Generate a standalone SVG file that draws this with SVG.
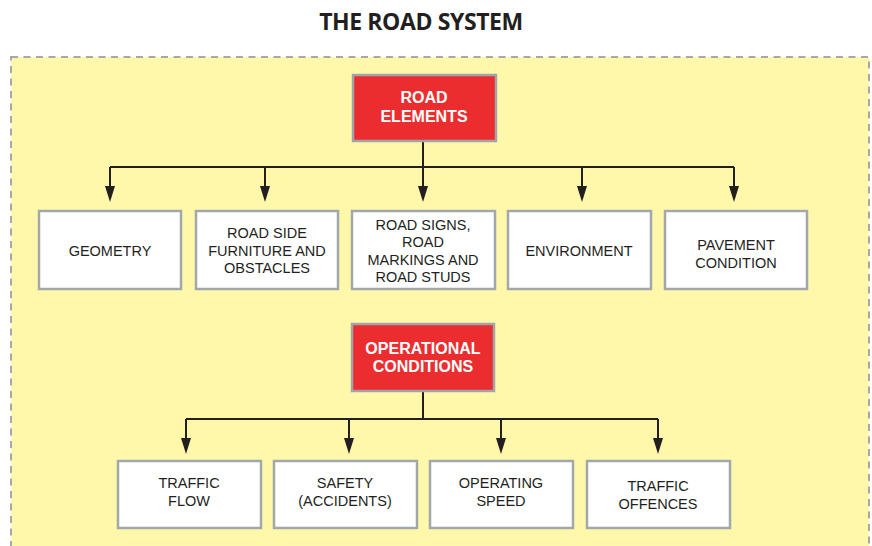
<svg xmlns="http://www.w3.org/2000/svg" width="872" height="546" viewBox="0 0 872 546">
<defs>
<style>
.title{font-family:"Open Sans","Liberation Sans",sans-serif;font-weight:bold;font-size:23px;fill:#231f20;text-anchor:middle;letter-spacing:-0.4px}
.red{fill:#ec2d30;stroke:#a2a5a8;stroke-width:2.5}
.box{fill:#ffffff;stroke:#a2a7ac;stroke-width:2.5}
.rt{font-family:"Liberation Sans",Arial,sans-serif;font-weight:bold;font-size:16px;fill:#ffffff;text-anchor:middle}
.bt{font-family:"Liberation Sans",Arial,sans-serif;font-size:14.5px;fill:#231f20;text-anchor:middle}
.ln{fill:none;stroke:#231f20;stroke-width:2}
</style>
<marker id="ah" viewBox="0 0 16 10" refX="12" refY="5" markerWidth="16" markerHeight="10" markerUnits="userSpaceOnUse" orient="auto">
<path d="M0,0 L16,5 L0,10 Z" fill="#231f20"/>
</marker>
</defs>
<rect width="872" height="546" fill="#ffffff"/>
<text class="title" x="421" y="30">THE ROAD SYSTEM</text>
<rect x="11" y="57" width="858" height="500" fill="#fff8aa" stroke="#a8a8a8" stroke-width="2" stroke-dasharray="7 5.5"/>
<g id="connectors">
<path class="ln" d="M423,142 V167 M110,167 H734"/>
<path class="ln" d="M110,167 V198" marker-end="url(#ah)"/>
<path class="ln" d="M265,167 V198" marker-end="url(#ah)"/>
<path class="ln" d="M423,167 V198" marker-end="url(#ah)"/>
<path class="ln" d="M582,167 V198" marker-end="url(#ah)"/>
<path class="ln" d="M734,167 V198" marker-end="url(#ah)"/>
<path class="ln" d="M423,391 V419 M186,419 H658"/>
<path class="ln" d="M186,419 V450" marker-end="url(#ah)"/>
<path class="ln" d="M349,419 V450" marker-end="url(#ah)"/>
<path class="ln" d="M501,419 V450" marker-end="url(#ah)"/>
<path class="ln" d="M658,419 V450" marker-end="url(#ah)"/>
</g>
<g id="road-elements">
<rect class="red" x="353" y="75" width="143" height="66"/>
<text class="rt" x="424" y="103">ROAD</text>
<text class="rt" x="424" y="122">ELEMENTS</text>
</g>
<g id="geometry">
<rect class="box" x="39" y="211" width="142" height="78"/>
<text class="bt" x="110" y="256">GEOMETRY</text>
</g>
<g id="road-side">
<rect class="box" x="196" y="211" width="142" height="78"/>
<text class="bt" x="267" y="238">ROAD SIDE</text>
<text class="bt" x="267" y="256">FURNITURE AND</text>
<text class="bt" x="267" y="273">OBSTACLES</text>
</g>
<g id="road-signs">
<rect class="box" x="352" y="211" width="143" height="78"/>
<text class="bt" x="423" y="230">ROAD SIGNS,</text>
<text class="bt" x="423" y="247">ROAD</text>
<text class="bt" x="423" y="265">MARKINGS AND</text>
<text class="bt" x="423" y="282">ROAD STUDS</text>
</g>
<g id="environment">
<rect class="box" x="508" y="211" width="143" height="78"/>
<text class="bt" x="579" y="256">ENVIRONMENT</text>
</g>
<g id="pavement">
<rect class="box" x="665" y="211" width="142" height="78"/>
<text class="bt" x="736" y="250">PAVEMENT</text>
<text class="bt" x="736" y="268">CONDITION</text>
</g>
<g id="operational">
<rect class="red" x="352" y="324" width="142" height="67"/>
<text class="rt" x="423" y="354">OPERATIONAL</text>
<text class="rt" x="423" y="372">CONDITIONS</text>
</g>
<g id="traffic-flow">
<rect class="box" x="118" y="461" width="143" height="67"/>
<text class="bt" x="189" y="488">TRAFFIC</text>
<text class="bt" x="189" y="506">FLOW</text>
</g>
<g id="safety">
<rect class="box" x="274" y="461" width="143" height="67"/>
<text class="bt" x="345" y="488">SAFETY</text>
<text class="bt" x="345" y="506">(ACCIDENTS)</text>
</g>
<g id="operating-speed">
<rect class="box" x="430" y="461" width="143" height="67"/>
<text class="bt" x="501" y="488">OPERATING</text>
<text class="bt" x="501" y="506">SPEED</text>
</g>
<g id="traffic-offences">
<rect class="box" x="587" y="461" width="143" height="67"/>
<text class="bt" x="658" y="491">TRAFFIC</text>
<text class="bt" x="658" y="509">OFFENCES</text>
</g>
</svg>
